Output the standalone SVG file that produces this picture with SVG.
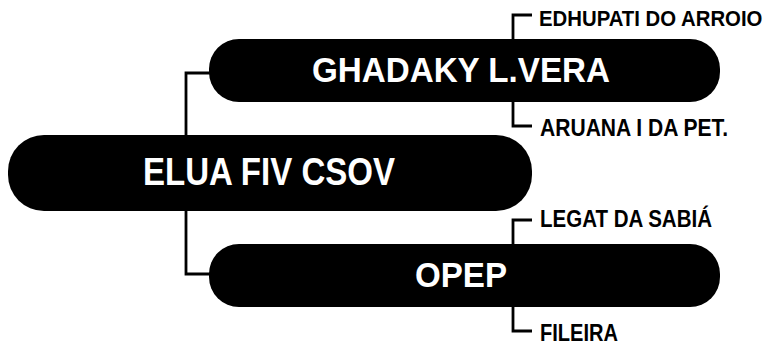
<svg xmlns="http://www.w3.org/2000/svg" width="776" height="345" viewBox="0 0 776 345">
<style>
.pill{fill:#000}
.nt{fill:#fff;font-family:"Liberation Sans",Arial,sans-serif;font-weight:bold;text-anchor:middle}
.lt{fill:#000;font-family:"Liberation Sans",Arial,sans-serif;font-weight:bold;font-size:23px}
.c{fill:none;stroke:#000;stroke-width:2.8}
</style>
<rect width="776" height="345" fill="#fff"/>
<g id="connectors">
<path class="c" d="M186,135 V73 H212"/>
<path class="c" d="M186,211 V274 H212"/>
<path class="c" d="M513,39 V15 H532"/>
<path class="c" d="M513,102 V126 H532"/>
<path class="c" d="M513,244 V220 H532"/>
<path class="c" d="M513,307 V331 H532"/>
</g>
<g id="root">
<rect class="pill" x="8" y="135" width="524" height="76" rx="36"/>
<text class="nt" x="269" y="185" font-size="39" textLength="252" lengthAdjust="spacingAndGlyphs">ELUA FIV CSOV</text>
</g>
<g id="ghadaky">
<rect class="pill" x="209" y="39" width="511" height="63" rx="30"/>
<text class="nt" x="461" y="82" font-size="35" textLength="298" lengthAdjust="spacingAndGlyphs">GHADAKY L.VERA</text>
</g>
<g id="opep">
<rect class="pill" x="209" y="244" width="511" height="63" rx="30"/>
<text class="nt" x="461" y="287" font-size="35" textLength="92" lengthAdjust="spacingAndGlyphs">OPEP</text>
</g>
<g id="edhupati">
<text class="lt" transform="translate(539,26) scale(0.885,1)" x="0" y="0">EDHUPATI DO ARROIO</text>
</g>
<g id="aruana">
<text class="lt" x="540" y="136" textLength="188" lengthAdjust="spacingAndGlyphs">ARUANA I DA PET.</text>
</g>
<g id="legat">
<text class="lt" x="540" y="226.5" textLength="172" lengthAdjust="spacingAndGlyphs">LEGAT DA SABIÁ</text>
</g>
<g id="fileira">
<text class="lt" x="540" y="340.5" textLength="78" lengthAdjust="spacingAndGlyphs">FILEIRA</text>
</g>
</svg>
